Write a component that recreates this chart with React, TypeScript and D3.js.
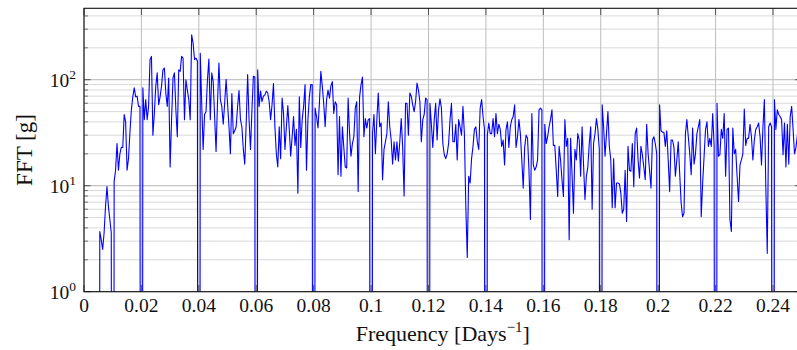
import React from "react";
import * as d3 from "d3";

// Frequency grid of the spectrum (Days^-1)
const FREQ_START = 0.005;
const FREQ_STEP = 0.0005;
const ZERO = 1e-14; // spectral nulls (drawn down past the bottom of the log axis)

// FFT magnitude [g], one value per frequency bin starting at FREQ_START
const fftValues: number[] = [
  ZERO, 3.7, 3.1, 2.5, 3.6, 6.4, 9.8, 6.4, 4.8, 3.6,
  ZERO, 11, 14, 25, 14, 20, 23, 23, 47, 40,
  14, 18, 32, 52, 69, 84, 69, 70, 56, 56,
  ZERO, 84, 42, 65, 42, 56, 155, 166, 30, 48,
  87, 116, 58, 69, 87, 124, 129, 75, 56, 104,
  15, 42, 104, 116, 52, 29, 124, 120, 166, 160,
  42, 100, 80, 65, 42, 265, 222, 155, 160, 150,
  ZERO, 178, 60, 22, 47, 50, 100, 157, 42, 116,
  96, 45, 21, 60, 144, 65, 56, 38, 60, 101,
  60, 36, 20, 74, 31, 33, 36, 56, 79, 42,
  36, 22, 16, 39, 112, 42, 22, 52, 108, 106,
  ZERO, 124, 56, 78, 62, 70, 72, 78, 75, 62,
  42, 58, 92, 36, 20, 15, 36, 18, 67, 48,
  22, 36, 57, 34, 19, 29, 45, 24, 34, 8.5,
  69, 23, 42, 56, 90, 14, 42, 69, 90, 90,
  ZERO, 54, 45, 35, 60, 120, 87, 60, 36, 65,
  80, 67, 87, 96, 48, 62, 58, 12.7, 45, 12.3,
  36, 23, 15, 14.7, 67, 31, 19, 25, 29, 54,
  62, 8.8, 69, 90, 106, 29, 43, 35, 42, 43,
  ZERO, 31, 47, 20, 42, 75, 36, 39, 11.4, 22,
  26, 31, 62, 36, 27, 16, 26, 17.5, 26, 17,
  26, 43, 23, 8, 60, 60, 30, 75, 70, 58,
  50, 62, 93, 80, 62, 26, 42, 47, 67, 65,
  ZERO, 60, 38, 23, 42, 60, 27, 52, 66, 54,
  25, 19.6, 18, 20, 25, 42, 60, 26, 26, 38,
  17.5, 42, 36, 30, 56, 31, 6.4, 2.1, 12.3, 10.6,
  18, 23.5, 34, 36, 26, 22, 54, 65, 45, 34,
  ZERO, 30, 39, 31, 31, 43, 29, 48, 31, 38,
  34, 23.5, 27, 15.7, 34, 40, 23, 36, 42, 45,
  58, 23, 29, 42, 31, 17.5, 9.5, 23, 30, 28,
  14, 4.8, 48, 15.7, 14, 15, 17.5, 52, 54, 52,
  ZERO, 38, 25, 29, 36, 42, 52, 24, 24, 14,
  7.9, 23.5, 17.5, 11.4, 7.9, 42, 23.5, 28, 3.1, 28,
  13, 5.5, 22, 17.5, 31, 27, 12.3, 36, 16, 7.4,
  12.3, 15, 25, 36, 6, 25, 31, 43, 34, 22,
  ZERO, 58, 36, 19, 31, 50, 23.5, 17.5, 6.2, 18,
  6.2, 10.6, 10.6, 10.4, 8.5, 5.5, 6, 14, 4.6, 23.5,
  14, 13.7, 25, 9.8, 31, 35, 17.5, 11.8, 23.5, 19.6,
  15, 11.4, 38, 20, 14, 9.5, 27, 29, 25, 20,
  ZERO, 58, 33, 32, 32, 23.5, 33, 17.5, 8.8, 27,
  27, 23, 12.3, 17.5, 26, 13, 6.9, 5.1, 5.5, 31,
  42, 29, 20, 12.7, 35, 16, 20, 31, 36, 42,
  5.1, 10.6, 19, 34, 40, 23.5, 28, 23.5, 48, 23.5,
  ZERO, 60, 19, 19.6, 34, 28, 48, 12.3, 34, 35,
  4.8, 3.7, 35, 20, 22, 12.3, 7.1, 15.7, 17.5, 20,
  53, 24, 28, 28, 38, 29, 17.5, 27, 34, 36,
  39, 29, 15.7, 36, 65, 9.8, 2.3, 36, 39, 36,
  ZERO, 65, 34, 52, 47, 45, 42, 19.6, 39, 15,
  38, 16, 45, 56, 34, 20, 23, 30, 45, 28, 35,
];

const xTicks = [0, 0.02, 0.04, 0.06, 0.08, 0.1, 0.12, 0.14, 0.16, 0.18, 0.2, 0.22, 0.24];
const xTickLabels = ["0", "0.02", "0.04", "0.06", "0.08", "0.1", "0.12", "0.14", "0.16", "0.18", "0.2", "0.22", "0.24"];
const yDecades = [0, 1, 2];
const X_MAX = 0.25;
const Y_MAX_EXP = 2.674;

export default function App() {
  const W = 797;
  const H = 350;
  const left = 84;
  const right = 801.7;
  const top = 8.3;
  const bottom = 291.7;

  const x = d3.scaleLinear().domain([0, X_MAX]).range([left, right]);
  const y = d3.scaleLog().domain([1, Math.pow(10, Y_MAX_EXP)]).range([bottom, top]);

  const data = fftValues.map((v, i) => ({ f: FREQ_START + i * FREQ_STEP, v }));
  const line = d3
    .line<{ f: number; v: number }>()
    .x((d) => x(d.f))
    .y((d) => y(d.v));

  const minorVals: number[] = [];
  yDecades.forEach((d) => {
    for (let k = 2; k <= 9; k++) {
      const v = k * Math.pow(10, d);
      if (v <= Math.pow(10, Y_MAX_EXP)) minorVals.push(v);
    }
  });

  const majorTick = 6.7;
  const minorTick = 4;
  const serif = "'Liberation Serif', 'Times New Roman', serif";

  return (
    <svg
      width={W}
      height={H}
      viewBox={`0 0 ${W} ${H}`}
      style={{ position: "absolute", left: 0, top: 0, background: "#fff" }}
    >
      <defs>
        <clipPath id="plotClip">
          <rect x={left} y={top} width={right - left} height={bottom - top} />
        </clipPath>
      </defs>
      <rect x={0} y={0} width={W} height={H} fill="#fff" />

      {/* minor horizontal grid */}
      {minorVals.map((v) => (
        <line key={"mg" + v} x1={left} x2={right} y1={y(v)} y2={y(v)} stroke="#d9d9d9" strokeWidth={1} />
      ))}
      {/* major horizontal grid */}
      {yDecades.map((d) => (
        <line
          key={"Mg" + d}
          x1={left}
          x2={right}
          y1={y(Math.pow(10, d))}
          y2={y(Math.pow(10, d))}
          stroke="#b4b4b4"
          strokeWidth={1}
        />
      ))}
      {/* vertical grid */}
      {xTicks.map((t) => (
        <line key={"vg" + t} x1={x(t)} x2={x(t)} y1={top} y2={bottom} stroke="#bdbdbd" strokeWidth={1} />
      ))}

      {/* spectrum */}
      <g clipPath="url(#plotClip)">
        <path d={line(data) || ""} fill="none" stroke="#0000ff" strokeWidth={1.1} strokeLinejoin="round" />
      </g>

      {/* ticks */}
      {xTicks.map((t) => (
        <g key={"xt" + t} stroke="#444" strokeWidth={0.9}>
          <line x1={x(t)} x2={x(t)} y1={bottom} y2={bottom - majorTick} />
          <line x1={x(t)} x2={x(t)} y1={top} y2={top + majorTick} />
        </g>
      ))}
      {yDecades.map((d) => (
        <g key={"yt" + d} stroke="#444" strokeWidth={0.9}>
          <line x1={left} x2={left + majorTick} y1={y(Math.pow(10, d))} y2={y(Math.pow(10, d))} />
          <line x1={right} x2={right - majorTick} y1={y(Math.pow(10, d))} y2={y(Math.pow(10, d))} />
        </g>
      ))}
      {minorVals.map((v) => (
        <g key={"ymt" + v} stroke="#555" strokeWidth={0.8}>
          <line x1={left} x2={left + minorTick} y1={y(v)} y2={y(v)} />
          <line x1={right} x2={right - minorTick} y1={y(v)} y2={y(v)} />
        </g>
      ))}

      {/* axis frame */}
      <rect x={left} y={top} width={right - left} height={bottom - top} fill="none" stroke="#111" strokeWidth={1.1} />

      {/* x tick labels */}
      {xTicks.map((t, i) => (
        <text key={"xl" + t} x={x(t)} y={312} textAnchor="middle" fontFamily={serif} fontSize={19.5} fill="#111">
          {xTickLabels[i]}
        </text>
      ))}
      {/* y tick labels */}
      {yDecades.map((d) => (
        <text
          key={"yl" + d}
          x={76}
          y={y(Math.pow(10, d)) + 7}
          textAnchor="end"
          fontFamily={serif}
          fontSize={19.5}
          fill="#111"
        >
          10
          <tspan fontSize={13.5} dy={-8}>
            {String(d)}
          </tspan>
        </text>
      ))}

      {/* axis labels */}
      <text x={(left + right) / 2} y={341} textAnchor="middle" fontFamily={serif} fontSize={22} fill="#111">
        Frequency [Days
        <tspan fontSize={15} dy={-9}>
          −1
        </tspan>
        <tspan dy={9}>]</tspan>
      </text>
      <text
        transform={`translate(32, ${(top + bottom) / 2}) rotate(-90)`}
        textAnchor="middle"
        fontFamily={serif}
        fontSize={23}
        fill="#111"
      >
        FFT [g]
      </text>
    </svg>
  );
}
